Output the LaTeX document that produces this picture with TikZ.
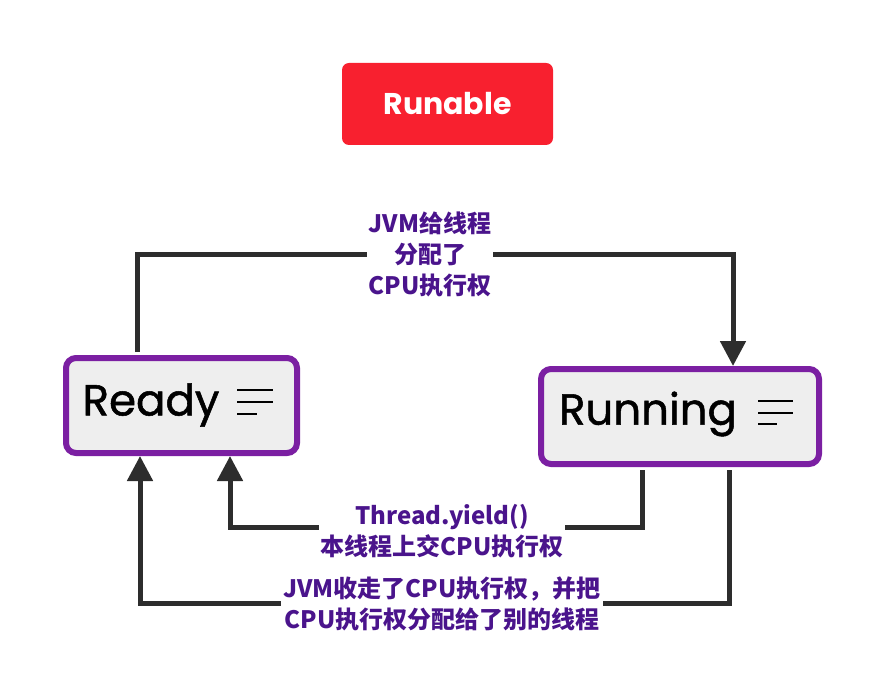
\documentclass[tikz,border=0pt]{standalone}
\usepackage{fontspec}
\setmainfont{Poppins}
\newfontfamily\medfont[FakeBold=1.2]{Poppins}
\newfontfamily\cjk{Noto Sans CJK SC}
\usetikzlibrary{arrows.meta,calc}
\definecolor{linec}{HTML}{2D2D2D}
\definecolor{purp}{HTML}{7B1FA2}
\definecolor{boxfill}{HTML}{EEEEEE}
\definecolor{lblc}{HTML}{4A148C}
\definecolor{redc}{HTML}{F8202F}
\tikzset{
  statebox/.style={draw=purp, line width=6pt, fill=boxfill, rounded corners=10pt, inner sep=0pt},
  conn/.style={draw=linec, line width=5pt, -{Triangle[width=25pt,length=25pt]}},
  lbl/.style={fill=white, text=lblc, align=center, inner sep=2pt, font=\cjk\bfseries\fontsize{24}{31}\selectfont},
  icon/.style={draw=black, line width=2.5pt},
  bigtxt/.style={font=\medfont\fontsize{43.5}{50}\selectfont, text=black, inner sep=0pt}
}
\begin{document}
\begin{tikzpicture}[x=1pt,y=-1pt]
\useasboundingbox (0,0) rectangle (882,700);
\node[fill=redc, rounded corners=7pt, minimum width=211pt, minimum height=82pt, inner sep=0pt,
      text=white, font=\bfseries\fontsize{30}{36}\selectfont] (runable) at (447.5,104) {Runable};
\node[statebox, minimum width=231pt, minimum height=95pt] (ready) at (181.5,405.5) {};
\node[statebox, minimum width=278pt, minimum height=95pt] (running) at (680,416.5) {};
\node[bigtxt] (readyt) at (151,405) {Ready};
\node[bigtxt] (runningt) at (648,414) {Running};
\draw[icon] (237,390) -- (273,390) (237,402) -- (273,402) (237,414) -- (257,414);
\draw[icon] (758,401) -- (793,401) (758,413) -- (793,413) (758,424) -- (777,424);
\draw[conn] ([yshift=3pt]ready.north -| 137,0) -- (137,255) -- (733,255) -- (running.north -| 733,0);
\draw[conn] ([yshift=-3pt]running.south -| 642,0) -- (642,527) -- (230,527) -- (ready.south -| 230,0);
\draw[conn] ([yshift=-3pt]running.south -| 729,0) -- (729,603) -- (140,603) -- (ready.south -| 140,0);
\node[lbl] (l1) at (430,254) {JVM给线程\\分配了\\CPU执行权};
\node[lbl] (l2) at (442,531) {Thread.yield()\\本线程上交CPU执行权};
\node[lbl] (l3) at (442,604) {JVM收走了CPU执行权，并把\\CPU执行权分配给了别的线程};
\end{tikzpicture}
\end{document}
